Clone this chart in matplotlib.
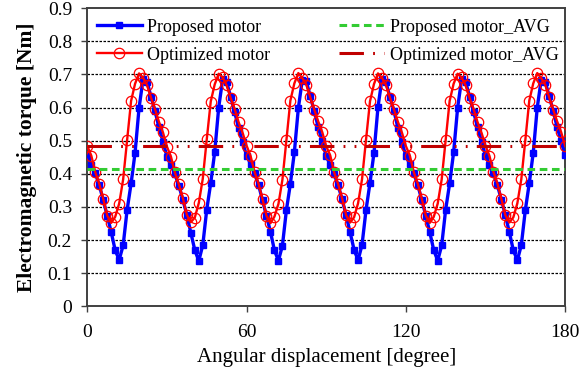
import matplotlib
matplotlib.use("Agg")
import matplotlib.pyplot as plt

# Angular displacement [degree], 1.5 degree step, 0..180
angle = [i * 1.5 for i in range(121)]

proposed = [
    0.455, 0.428, 0.402, 0.366, 0.321, 0.274, 0.224, 0.170, 0.140, 0.184,
    0.291, 0.371, 0.464, 0.599, 0.685, 0.678, 0.633, 0.590, 0.540, 0.497,
    0.452, 0.426, 0.400, 0.364, 0.322, 0.276, 0.222, 0.170, 0.137, 0.185,
    0.292, 0.372, 0.466, 0.600, 0.686, 0.677, 0.632, 0.587, 0.538, 0.495,
    0.455, 0.430, 0.401, 0.367, 0.320, 0.273, 0.225, 0.169, 0.138, 0.183,
    0.290, 0.370, 0.465, 0.598, 0.684, 0.679, 0.634, 0.589, 0.541, 0.498,
    0.453, 0.427, 0.399, 0.365, 0.323, 0.275, 0.223, 0.171, 0.139, 0.186,
    0.291, 0.373, 0.463, 0.601, 0.686, 0.677, 0.631, 0.591, 0.539, 0.496,
    0.454, 0.429, 0.402, 0.366, 0.321, 0.274, 0.224, 0.170, 0.138, 0.184,
    0.292, 0.371, 0.465, 0.599, 0.685, 0.678, 0.633, 0.588, 0.540, 0.497,
    0.455, 0.428, 0.401, 0.365, 0.322, 0.275, 0.223, 0.169, 0.139, 0.185,
    0.290, 0.372, 0.464, 0.600, 0.684, 0.678, 0.634, 0.590, 0.541, 0.498,
    0.456,
]

optimized = [
    0.484, 0.455, 0.405, 0.370, 0.325, 0.274, 0.252, 0.270, 0.310, 0.383,
    0.502, 0.620, 0.672, 0.703, 0.690, 0.668, 0.630, 0.595, 0.557, 0.525,
    0.482, 0.452, 0.404, 0.368, 0.327, 0.276, 0.254, 0.268, 0.312, 0.385,
    0.504, 0.618, 0.670, 0.702, 0.691, 0.667, 0.629, 0.596, 0.556, 0.524,
    0.485, 0.454, 0.406, 0.371, 0.324, 0.273, 0.251, 0.271, 0.309, 0.382,
    0.501, 0.621, 0.673, 0.704, 0.689, 0.669, 0.631, 0.594, 0.558, 0.526,
    0.483, 0.456, 0.404, 0.369, 0.326, 0.275, 0.253, 0.269, 0.311, 0.384,
    0.503, 0.619, 0.671, 0.703, 0.690, 0.668, 0.630, 0.595, 0.557, 0.525,
    0.484, 0.455, 0.405, 0.370, 0.325, 0.274, 0.252, 0.270, 0.310, 0.383,
    0.502, 0.620, 0.672, 0.702, 0.691, 0.667, 0.629, 0.596, 0.556, 0.524,
    0.485, 0.454, 0.406, 0.371, 0.324, 0.275, 0.253, 0.269, 0.311, 0.384,
    0.501, 0.621, 0.673, 0.704, 0.689, 0.669, 0.631, 0.594, 0.558, 0.526,
    0.484,
]

proposed_avg = 0.415
optimized_avg = 0.484

x_ticks = [0, 60, 120, 180]
y_ticks = [0, 0.1, 0.2, 0.3, 0.4, 0.5, 0.6, 0.7, 0.8, 0.9]
y_ticklabels = ["0", "0.1", "0.2", "0.3", "0.4", "0.5", "0.6", "0.7", "0.8", "0.9"]

plt.rcParams["font.family"] = ["Liberation Serif", "DejaVu Serif"]

fig = plt.figure(figsize=(5.82, 3.70), dpi=100)
ax = fig.add_axes([0.150, 0.172, 0.821, 0.806])

for y in y_ticks[1:-1]:
    ax.axhline(y, color="black", lw=0.9, dashes=(2, 1.2), zorder=1)

ax.plot(angle, proposed, color="#0000FF", lw=2.4, marker="s", markersize=5,
        label="Proposed motor", zorder=3)
ax.plot(angle, optimized, color="#FF0000", lw=1.7, marker="o", markersize=7.5,
        markerfacecolor="none", markeredgewidth=0.9, label="Optimized motor", zorder=4)
ax.plot([angle[0], angle[-1]], [proposed_avg, proposed_avg], color="#33CC33", lw=2.2,
        dashes=(2.5, 1.5), label="Proposed motor_AVG", zorder=5)
ax.plot([angle[0], angle[-1]], [optimized_avg, optimized_avg], color="#C00000", lw=2.2,
        dashes=(8, 3, 0.6, 3, 0.6, 3), label="Optimized motor_AVG", zorder=5)

ax.set_xlim(0, 180)
ax.set_ylim(0, 0.9)
ax.set_xticks(x_ticks)
ax.set_yticks(y_ticks)
ax.set_yticklabels(y_ticklabels)
ax.tick_params(direction="out", length=4, width=1, labelsize=14, color="#404040")
ax.tick_params(axis="x", pad=9)
ax.tick_params(axis="y", pad=7)

for s in ax.spines.values():
    s.set_color("#404040")
    s.set_linewidth(1.4)

ax.set_xlabel("Angular displacement [degree]", fontsize=15, labelpad=5)
ax.set_ylabel("Electromagnetic torque [Nm]", fontsize=15.5, fontweight="bold", labelpad=8)

ax.legend(loc="upper left", bbox_to_anchor=(0.02, 0.965), ncol=2, frameon=False,
          fontsize=13, handlelength=2.5, handletextpad=0.3, columnspacing=3.8,
          labelspacing=0.62, borderpad=0, borderaxespad=0)

fig.savefig("out.png", dpi=100)
